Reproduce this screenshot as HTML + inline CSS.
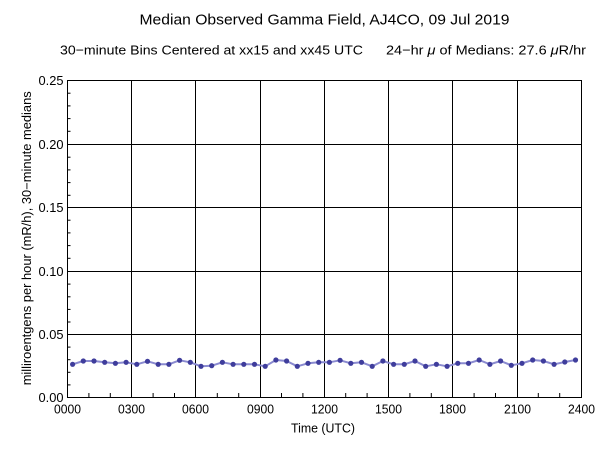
<!DOCTYPE html>
<html>
<head>
<meta charset="utf-8">
<style>
  html, body { margin:0; padding:0; background:#ffffff; }
  svg { display:block; }
  text { font-family: "Liberation Sans", "DejaVu Sans", sans-serif; fill:#000; }
</style>
</head>
<body>
<svg width="600" height="457" viewBox="0 0 600 457" xmlns="http://www.w3.org/2000/svg">
  <rect x="0" y="0" width="600" height="457" fill="#ffffff"/>

  <text x="324.5" y="24.3" font-size="15" text-anchor="middle" textLength="370" lengthAdjust="spacingAndGlyphs">Median Observed Gamma Field, AJ4CO, 09 Jul 2019</text>
  <text x="60" y="54.3" font-size="13" textLength="303" lengthAdjust="spacingAndGlyphs">30−minute Bins Centered at xx15 and xx45 UTC</text>
  <text x="386" y="54.3" font-size="13" textLength="200" lengthAdjust="spacingAndGlyphs">24−hr <tspan font-style="italic">μ</tspan> of Medians: 27.6 <tspan font-style="italic">μ</tspan>R/hr</text>

  <g stroke="#000" stroke-width="1" fill="none">
    <line x1="131.5" y1="80.5" x2="131.5" y2="397.5"/>
    <line x1="195.5" y1="80.5" x2="195.5" y2="397.5"/>
    <line x1="260.5" y1="80.5" x2="260.5" y2="397.5"/>
    <line x1="324.5" y1="80.5" x2="324.5" y2="397.5"/>
    <line x1="388.5" y1="80.5" x2="388.5" y2="397.5"/>
    <line x1="452.5" y1="80.5" x2="452.5" y2="397.5"/>
    <line x1="517.5" y1="80.5" x2="517.5" y2="397.5"/>
    <line x1="67.5" y1="144.5" x2="581.5" y2="144.5"/>
    <line x1="67.5" y1="207.5" x2="581.5" y2="207.5"/>
    <line x1="67.5" y1="271.5" x2="581.5" y2="271.5"/>
    <line x1="67.5" y1="334.5" x2="581.5" y2="334.5"/>
    <rect x="67.5" y="80.5" width="514" height="317"/>
  </g>

  <g stroke="#000" stroke-width="1">
    <line x1="67.5" y1="93.2" x2="70.5" y2="93.2"/>
    <line x1="67.5" y1="105.9" x2="70.5" y2="105.9"/>
    <line x1="67.5" y1="118.6" x2="70.5" y2="118.6"/>
    <line x1="67.5" y1="131.3" x2="70.5" y2="131.3"/>
    <line x1="67.5" y1="157.2" x2="70.5" y2="157.2"/>
    <line x1="67.5" y1="169.9" x2="70.5" y2="169.9"/>
    <line x1="67.5" y1="182.6" x2="70.5" y2="182.6"/>
    <line x1="67.5" y1="195.3" x2="70.5" y2="195.3"/>
    <line x1="67.5" y1="220.2" x2="70.5" y2="220.2"/>
    <line x1="67.5" y1="232.9" x2="70.5" y2="232.9"/>
    <line x1="67.5" y1="245.6" x2="70.5" y2="245.6"/>
    <line x1="67.5" y1="258.3" x2="70.5" y2="258.3"/>
    <line x1="67.5" y1="284.1" x2="70.5" y2="284.1"/>
    <line x1="67.5" y1="296.8" x2="70.5" y2="296.8"/>
    <line x1="67.5" y1="309.4" x2="70.5" y2="309.4"/>
    <line x1="67.5" y1="322.0" x2="70.5" y2="322.0"/>
    <line x1="67.5" y1="347.1" x2="70.5" y2="347.1"/>
    <line x1="67.5" y1="359.7" x2="70.5" y2="359.7"/>
    <line x1="67.5" y1="372.3" x2="70.5" y2="372.3"/>
    <line x1="67.5" y1="384.9" x2="70.5" y2="384.9"/>
  </g>

  <g stroke="#000" stroke-width="1">
    <line x1="88.9" y1="393" x2="88.9" y2="397.5"/>
    <line x1="110.3" y1="393" x2="110.3" y2="397.5"/>
    <line x1="153.1" y1="393" x2="153.1" y2="397.5"/>
    <line x1="174.5" y1="393" x2="174.5" y2="397.5"/>
    <line x1="217.3" y1="393" x2="217.3" y2="397.5"/>
    <line x1="238.7" y1="393" x2="238.7" y2="397.5"/>
    <line x1="281.5" y1="393" x2="281.5" y2="397.5"/>
    <line x1="302.9" y1="393" x2="302.9" y2="397.5"/>
    <line x1="345.7" y1="393" x2="345.7" y2="397.5"/>
    <line x1="367.1" y1="393" x2="367.1" y2="397.5"/>
    <line x1="409.9" y1="393" x2="409.9" y2="397.5"/>
    <line x1="431.3" y1="393" x2="431.3" y2="397.5"/>
    <line x1="474.1" y1="393" x2="474.1" y2="397.5"/>
    <line x1="495.5" y1="393" x2="495.5" y2="397.5"/>
    <line x1="538.3" y1="393" x2="538.3" y2="397.5"/>
    <line x1="559.7" y1="393" x2="559.7" y2="397.5"/>
  </g>

  <g font-size="13" text-anchor="end">
    <text x="63.5" y="85" textLength="25" lengthAdjust="spacingAndGlyphs">0.25</text>
    <text x="63.5" y="149" textLength="25" lengthAdjust="spacingAndGlyphs">0.20</text>
    <text x="63.5" y="212" textLength="25" lengthAdjust="spacingAndGlyphs">0.15</text>
    <text x="63.5" y="276" textLength="25" lengthAdjust="spacingAndGlyphs">0.10</text>
    <text x="63.5" y="339" textLength="25" lengthAdjust="spacingAndGlyphs">0.05</text>
    <text x="63.5" y="402" textLength="25" lengthAdjust="spacingAndGlyphs">0.00</text>
  </g>

  <g font-size="13" text-anchor="middle">
    <text x="67.5" y="413.5" textLength="27" lengthAdjust="spacingAndGlyphs">0000</text>
    <text x="131.5" y="413.5" textLength="27" lengthAdjust="spacingAndGlyphs">0300</text>
    <text x="195.5" y="413.5" textLength="27" lengthAdjust="spacingAndGlyphs">0600</text>
    <text x="260.5" y="413.5" textLength="27" lengthAdjust="spacingAndGlyphs">0900</text>
    <text x="324.5" y="413.5" textLength="27" lengthAdjust="spacingAndGlyphs">1200</text>
    <text x="388.5" y="413.5" textLength="27" lengthAdjust="spacingAndGlyphs">1500</text>
    <text x="452.5" y="413.5" textLength="27" lengthAdjust="spacingAndGlyphs">1800</text>
    <text x="517.5" y="413.5" textLength="27" lengthAdjust="spacingAndGlyphs">2100</text>
    <text x="581.5" y="413.5" textLength="27" lengthAdjust="spacingAndGlyphs">2400</text>
  </g>

  <text x="323" y="432.5" font-size="13" text-anchor="middle" textLength="64" lengthAdjust="spacingAndGlyphs">Time (UTC)</text>
  <text x="0" y="0" font-size="12.5" text-anchor="middle" textLength="294" lengthAdjust="spacingAndGlyphs" transform="translate(31,238.3) rotate(-90)">milliroentgens per hour (mR/h), 30−minute medians</text>

  <polyline fill="none" stroke="#8a8ad0" stroke-width="2" stroke-linejoin="round"
    points="72.6,364.3 83.3,361 94,361 104.7,362.3 115.4,363.3 126.1,362.3 136.8,364.3 147.5,361.3 158.2,364.3 168.9,364.3 179.6,360.3 190.3,362.3 201,366.3 211.7,365.7 222.4,362.3 233.1,364.3 243.8,364.3 254.5,364.3 265.2,366.3 275.9,360 286.6,361 297.3,366.3 308,363.3 318.7,362.3 329.4,362.3 340.1,360.3 350.8,363.3 361.5,362.3 372.2,366.3 382.9,361 393.6,364.3 404.3,364.3 415,361 425.7,366.3 436.4,364.3 447.1,366.3 457.8,363.3 468.5,363.3 479.2,360 489.9,364.3 500.6,361 511.3,365.3 522,363.3 532.7,360 543.4,361 554.1,364.3 564.8,362 575.5,360"/>

  <g fill="#3f3d9c">
    <circle cx="72.6" cy="364.3" r="2.6"/>
    <circle cx="83.3" cy="361" r="2.6"/>
    <circle cx="94" cy="361" r="2.6"/>
    <circle cx="104.7" cy="362.3" r="2.6"/>
    <circle cx="115.4" cy="363.3" r="2.6"/>
    <circle cx="126.1" cy="362.3" r="2.6"/>
    <circle cx="136.8" cy="364.3" r="2.6"/>
    <circle cx="147.5" cy="361.3" r="2.6"/>
    <circle cx="158.2" cy="364.3" r="2.6"/>
    <circle cx="168.9" cy="364.3" r="2.6"/>
    <circle cx="179.6" cy="360.3" r="2.6"/>
    <circle cx="190.3" cy="362.3" r="2.6"/>
    <circle cx="201" cy="366.3" r="2.6"/>
    <circle cx="211.7" cy="365.7" r="2.6"/>
    <circle cx="222.4" cy="362.3" r="2.6"/>
    <circle cx="233.1" cy="364.3" r="2.6"/>
    <circle cx="243.8" cy="364.3" r="2.6"/>
    <circle cx="254.5" cy="364.3" r="2.6"/>
    <circle cx="265.2" cy="366.3" r="2.6"/>
    <circle cx="275.9" cy="360" r="2.6"/>
    <circle cx="286.6" cy="361" r="2.6"/>
    <circle cx="297.3" cy="366.3" r="2.6"/>
    <circle cx="308" cy="363.3" r="2.6"/>
    <circle cx="318.7" cy="362.3" r="2.6"/>
    <circle cx="329.4" cy="362.3" r="2.6"/>
    <circle cx="340.1" cy="360.3" r="2.6"/>
    <circle cx="350.8" cy="363.3" r="2.6"/>
    <circle cx="361.5" cy="362.3" r="2.6"/>
    <circle cx="372.2" cy="366.3" r="2.6"/>
    <circle cx="382.9" cy="361" r="2.6"/>
    <circle cx="393.6" cy="364.3" r="2.6"/>
    <circle cx="404.3" cy="364.3" r="2.6"/>
    <circle cx="415" cy="361" r="2.6"/>
    <circle cx="425.7" cy="366.3" r="2.6"/>
    <circle cx="436.4" cy="364.3" r="2.6"/>
    <circle cx="447.1" cy="366.3" r="2.6"/>
    <circle cx="457.8" cy="363.3" r="2.6"/>
    <circle cx="468.5" cy="363.3" r="2.6"/>
    <circle cx="479.2" cy="360" r="2.6"/>
    <circle cx="489.9" cy="364.3" r="2.6"/>
    <circle cx="500.6" cy="361" r="2.6"/>
    <circle cx="511.3" cy="365.3" r="2.6"/>
    <circle cx="522" cy="363.3" r="2.6"/>
    <circle cx="532.7" cy="360" r="2.6"/>
    <circle cx="543.4" cy="361" r="2.6"/>
    <circle cx="554.1" cy="364.3" r="2.6"/>
    <circle cx="564.8" cy="362" r="2.6"/>
    <circle cx="575.5" cy="360" r="2.6"/>
  </g>
</svg>
</body>
</html>
